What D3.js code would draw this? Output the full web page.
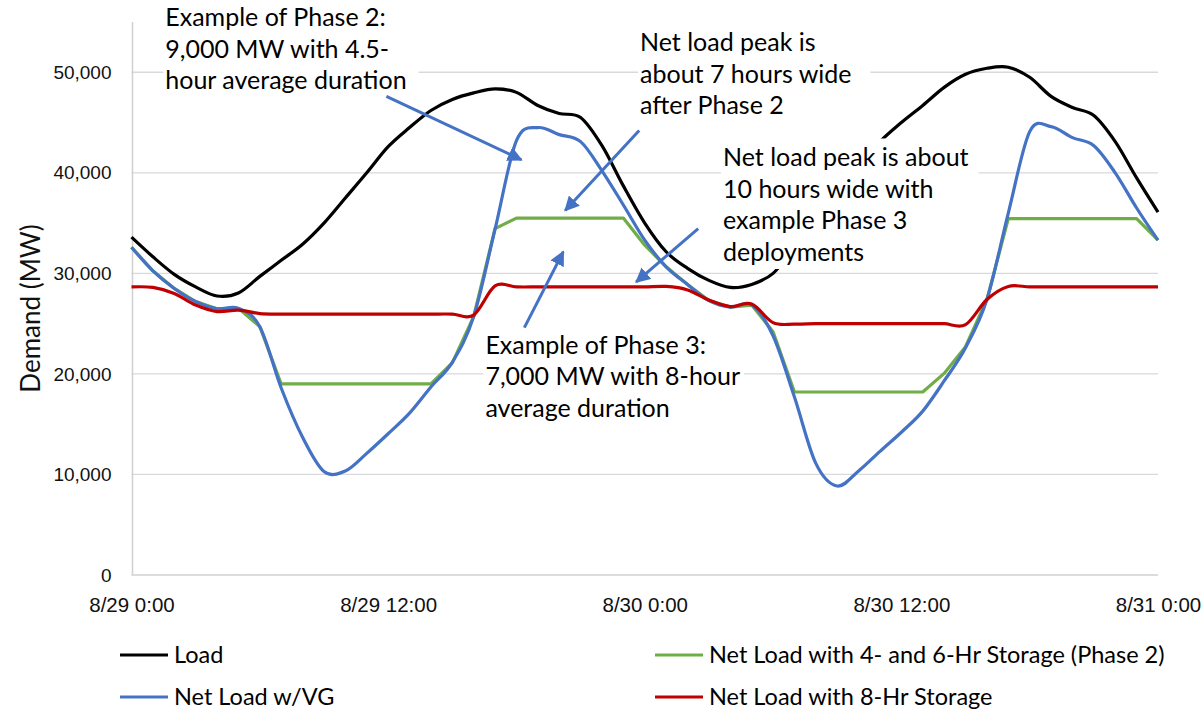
<!DOCTYPE html>
<html>
<head>
<meta charset="utf-8">
<script src="https://cdn.jsdelivr.net/npm/d3@7"></script>
<style>
  body { margin: 0; background: #fff; }
  svg { display: block; font-family: Lato, "Open Sans", sans-serif; }
</style>
</head>
<body>
<svg id="chart"></svg>
<script>
// --- data: hourly values, 8/29 0:00 .. 8/31 0:00 (MW) ---
const startTime = new Date(2019, 7, 29, 0, 0);
const load = [33600, 31650, 29900, 28650, 27750, 28050, 29700, 31300, 32900, 35000, 37500, 40000, 42600,
  44500, 46200, 47300, 47950, 48350, 48000, 46700, 45900, 45500, 42700, 38700, 35000,
  32150, 30500, 29300, 28600, 28900, 30000, 32600, 35300, 38000, 40700, 43100,
  45000, 46700, 48500, 49800, 50400, 50500, 49500, 47600, 46500, 45700, 43100, 39500, 36100];
const netLoadVG = [32600, 30250, 28500, 27200, 26480, 26520, 24700, 18600, 13700, 10300, 10350, 12100, 14050,
  16100, 18700, 21150, 25700, 34400, 43200, 44500, 43800, 43100, 40200, 36800, 33300,
  30650, 28900, 27300, 26650, 26850, 23800, 17700, 11100, 8850, 10350, 12300,
  14200, 16300, 19300, 22600, 27400, 36000, 44100, 44600, 43500, 42700, 40000, 36500, 33300];
const netLoadPhase2 = [32600, 30250, 28500, 27200, 26480, 26520, 24700, 19000, 19000, 19000, 19000, 19000, 19000,
  19000, 19000, 21100, 25700, 34450, 35500, 35500, 35500, 35500, 35500, 35500, 32800,
  30650, 28900, 27300, 26650, 26850, 24200, 18200, 18200, 18200, 18200, 18200,
  18200, 18200, 20050, 22700, 27400, 35450, 35450, 35450, 35450, 35450, 35450, 35450, 33300];
const netLoad8hr = [28650, 28600, 28000, 26850, 26200, 26350, 26000, 25950, 25950, 25950, 25950, 25950, 25950,
  25950, 25950, 25950, 25850, 28750, 28650, 28650, 28650, 28650, 28650, 28650, 28650,
  28700, 28350, 27350, 26700, 26950, 25100, 24950, 25000, 25000, 25000, 25000,
  25000, 25000, 25000, 24900, 27400, 28700, 28650, 28650, 28650, 28650, 28650, 28650, 28650];

const yTicks = [0, 10000, 20000, 30000, 40000, 50000];
const xTickHours = [0, 12, 24, 36, 48];

const seriesNames = ["Load", "Net Load w/VG", "Net Load with 4- and 6-Hr Storage (Phase 2)", "Net Load with 8-Hr Storage"];
const seriesColors = ["#000000", "#4472C4", "#70AD47", "#C00000"];

// annotations: anchor at [hour, MW] of first text line, arrows [hour, MW] -> [hour, MW]
const notes = [
  { lines: ["Example of Phase 2:", "9,000 MW with 4.5-", "hour average duration"], at: [1.58, 55450], padR: 12 },
  { lines: ["Net load peak is", "about 7 hours wide", "after Phase 2"], at: [23.78, 52950], padR: 19 },
  { lines: ["Net load peak is about", "10 hours wide with", "example Phase 3", "deployments"], at: [27.66, 41500], padR: 10 },
  { lines: ["Example of Phase 3:", "7,000 MW with 8-hour", "average duration"], at: [16.55, 22900], padR: 4 }
];
const arrows = [
  { from: [11.92, 47600], to: [18.23, 41300] },
  { from: [23.74, 44200], to: [20.28, 36250] },
  { from: [26.5, 34450], to: [23.6, 29150] },
  { from: [18.37, 24600], to: [20.19, 32150] }
];

// --- setup ---
const width = 1203, height = 709;
const margin = { left: 131.5, right: 45, top: 22, bottom: 134 };

const svg = d3.select("#chart").attr("width", width).attr("height", height);

const hourToTime = h => new Date(startTime.getTime() + h * 3600 * 1000);
const x = d3.scaleTime()
  .domain([hourToTime(0), hourToTime(48)])
  .range([margin.left, width - margin.right]);
const y = d3.scaleLinear()
  .domain([0, 55000])
  .range([height - margin.bottom, margin.top]);

// gridlines
svg.append("g")
  .selectAll("line")
  .data(yTicks.filter(d => d > 0))
  .join("line")
  .attr("x1", x.range()[0]).attr("x2", x.range()[1])
  .attr("y1", d => y(d)).attr("y2", d => y(d))
  .attr("stroke", "#d9d9d9").attr("stroke-width", 1.3);

// axis lines
svg.append("line")
  .attr("x1", x.range()[0]).attr("x2", x.range()[1])
  .attr("y1", y(0)).attr("y2", y(0))
  .attr("stroke", "#d0d0d0").attr("stroke-width", 1.5);
svg.append("line")
  .attr("x1", x.range()[0] + 1).attr("x2", x.range()[0] + 1)
  .attr("y1", y.range()[1]).attr("y2", y(0))
  .attr("stroke", "#d0d0d0").attr("stroke-width", 1.5);

// y axis labels
const yAxis = svg.append("g")
  .attr("transform", `translate(${margin.left},0)`)
  .call(d3.axisLeft(y).tickValues(yTicks).tickSize(0).tickPadding(20).tickFormat(d3.format(",")));
yAxis.select(".domain").remove();
yAxis.selectAll("text").attr("font-size", 19).attr("fill", "#111").attr("font-family", null);

// x axis labels
const xAxis = svg.append("g")
  .attr("transform", `translate(0,${y(0)})`)
  .call(d3.axisBottom(x).tickValues(xTickHours.map(hourToTime)).tickSize(0)
    .tickFormat(d3.timeFormat("%-m/%-d %-H:%M")));
xAxis.select(".domain").remove();
xAxis.selectAll("text").attr("y", 30).attr("dy", "0.35em")
  .attr("font-size", 20.5).attr("fill", "#111").attr("font-family", null);

// y axis title
svg.append("text")
  .attr("transform", `translate(31,${(y(0) + y.range()[1]) / 2 + 10}) rotate(-90)`)
  .attr("text-anchor", "middle").attr("dy", "0.35em")
  .attr("font-size", 26).attr("fill", "#111")
  .text("Demand (MW)");

// --- lines ---
const smooth = d3.line().x((d, i) => x(hourToTime(i))).y(d => y(d)).curve(d3.curveCardinal.tension(0));
const straight = d3.line().x((d, i) => x(hourToTime(i))).y(d => y(d));

const plotted = [
  { values: load, color: seriesColors[0], gen: smooth },
  { values: netLoadPhase2, color: seriesColors[2], gen: straight },
  { values: netLoadVG, color: seriesColors[1], gen: smooth },
  { values: netLoad8hr, color: seriesColors[3], gen: smooth }
];
svg.append("g")
  .selectAll("path")
  .data(plotted)
  .join("path")
  .attr("d", d => d.gen(d.values))
  .attr("fill", "none")
  .attr("stroke", d => d.color)
  .attr("stroke-width", 3.2)
  .attr("stroke-linejoin", "round");

// --- annotation boxes ---
const lineH = 31.5;
notes.forEach(n => {
  const g = svg.append("g");
  const rect = g.append("rect").attr("fill", "#fff");
  const t = g.append("text")
    .attr("font-size", 25).attr("fill", "#000");
  n.lines.forEach((s, i) => {
    t.append("tspan")
      .attr("x", x(hourToTime(n.at[0])))
      .attr("y", y(n.at[1]) + i * lineH)
      .attr("dy", "0.35em")
      .text(s);
  });
  const bb = t.node().getBBox();
  rect.attr("x", bb.x - 2).attr("y", bb.y - 3)
    .attr("width", bb.width + 2 + n.padR).attr("height", bb.height + 6);
});

// --- arrows ---
const defs = svg.append("defs");
defs.append("marker")
  .attr("id", "head")
  .attr("viewBox", "0 0 10 10")
  .attr("refX", 9).attr("refY", 5)
  .attr("markerWidth", 5).attr("markerHeight", 5)
  .attr("markerUnits", "strokeWidth")
  .attr("orient", "auto")
  .append("path")
  .attr("d", "M0,0 L10,5 L0,10 z")
  .attr("fill", "#4472C4");

svg.append("g")
  .selectAll("line")
  .data(arrows)
  .join("line")
  .attr("x1", d => x(hourToTime(d.from[0]))).attr("y1", d => y(d.from[1]))
  .attr("x2", d => x(hourToTime(d.to[0]))).attr("y2", d => y(d.to[1]))
  .attr("stroke", "#4472C4").attr("stroke-width", 3)
  .attr("marker-end", "url(#head)");

// --- legend ---
const legendItems = [
  { name: seriesNames[0], color: seriesColors[0], col: 0, row: 0 },
  { name: seriesNames[2], color: seriesColors[2], col: 1, row: 0 },
  { name: seriesNames[1], color: seriesColors[1], col: 0, row: 1 },
  { name: seriesNames[3], color: seriesColors[3], col: 1, row: 1 }
];
const legend = svg.append("g")
  .selectAll("g")
  .data(legendItems)
  .join("g")
  .attr("transform", d => `translate(${d.col ? 655 : 120},${655 + d.row * 42})`);
legend.append("line")
  .attr("x1", 0).attr("x2", 48)
  .attr("stroke", d => d.color).attr("stroke-width", 3.2);
legend.append("text")
  .attr("x", 54).attr("dy", "0.35em")
  .attr("font-size", 23.5).attr("fill", "#000")
  .text(d => d.name);
</script>
</body>
</html>
